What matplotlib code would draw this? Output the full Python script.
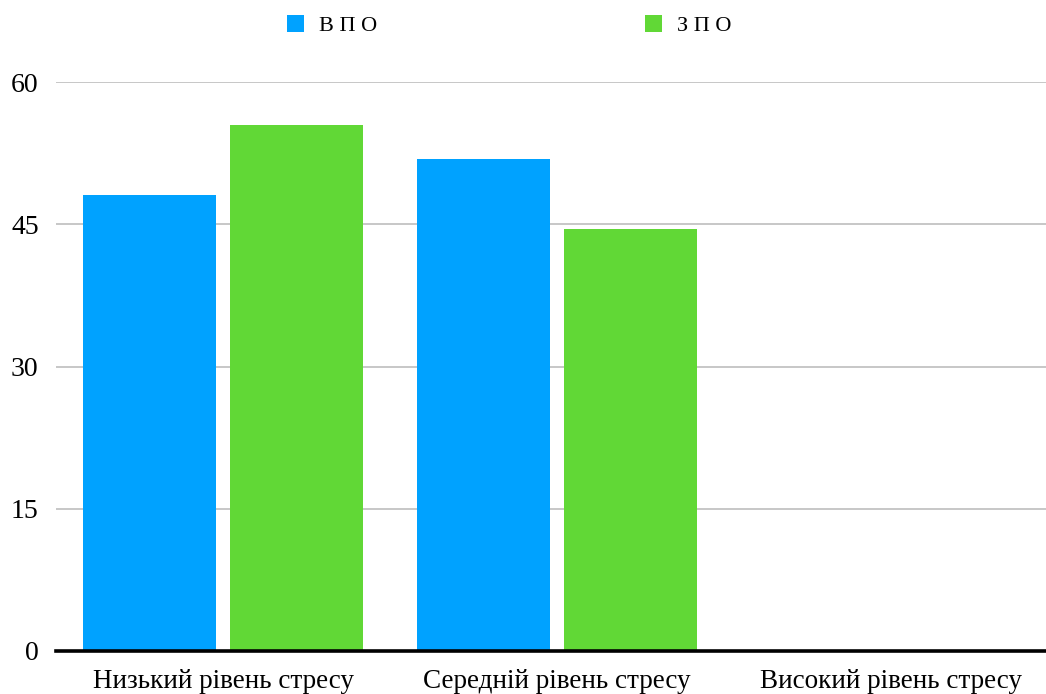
import matplotlib
matplotlib.use("Agg")
import matplotlib.pyplot as plt
import numpy as np

categories = ["Низький рівень стресу", "Середній рівень стресу", "Високий рівень стресу"]
series_names = ["В П О", "З П О"]
vpo = [48.1, 51.9, 0]
zpo = [55.5, 44.5, 0]
yticks = [0, 15, 30, 45, 60]

colors = ["#00A2FF", "#61D836"]

W, H = 1046, 694
fig = plt.figure(figsize=(W / 100, H / 100), dpi=100)
left_px, right_px = 56, 1058
bot_px, top_px = 651, 82.3
ax = fig.add_axes([left_px / W, (H - bot_px) / H, (right_px - left_px) / W, (bot_px - top_px) / H])

x = np.arange(len(categories))
bw = 0.401
off = 0.22
b1 = ax.bar(x - off, vpo, width=bw, color=colors[0], label=series_names[0], zorder=3)
b2 = ax.bar(x + off, zpo, width=bw, color=colors[1], label=series_names[1], zorder=3)

ax.set_xlim(-0.5, len(categories) - 0.5)
ax.set_ylim(0, 60)
ax.set_yticks(yticks)
ax.set_xticks(x)
ax.set_xticklabels(categories, family=["Liberation Serif"], fontsize=19.5)
ax.set_yticklabels([str(t) for t in yticks], family=["Liberation Serif"], fontsize=20)
ax.tick_params(axis="both", length=0)
ax.tick_params(axis="y", pad=12.5)
ax.tick_params(axis="x", pad=13)
ax.yaxis.grid(True, color="#BDBDBD", linewidth=1.2, zorder=0)
for s in ["top", "right", "left"]:
    ax.spines[s].set_visible(False)
ax.spines["bottom"].set_linewidth(2.6)
ax.spines["bottom"].set_color("black")
ax.spines["bottom"].set_zorder(4)

fs = 16
fpx = fs * 100 / 72
leg = fig.legend(handles=[b1, b2], labels=series_names, loc="center left",
                 bbox_to_anchor=(280 / W, (H - 25.5) / H), ncol=2, frameon=False,
                 prop={"family": "Liberation Serif", "size": fs},
                 handlelength=17 / fpx, handleheight=17 / fpx, handletextpad=15 / fpx,
                 columnspacing=268 / fpx, borderaxespad=0, borderpad=0.5)
fig.canvas.draw()
bb = leg.get_window_extent()
# align first handle's left edge to x=287 px
h0 = leg.legend_handles[0].get_window_extent()
shift = 287 - h0.x0
leg.set_bbox_to_anchor(((280 + shift) / W, (H - 25.5) / H), transform=fig.transFigure)

fig.savefig("out.png", dpi=100)
